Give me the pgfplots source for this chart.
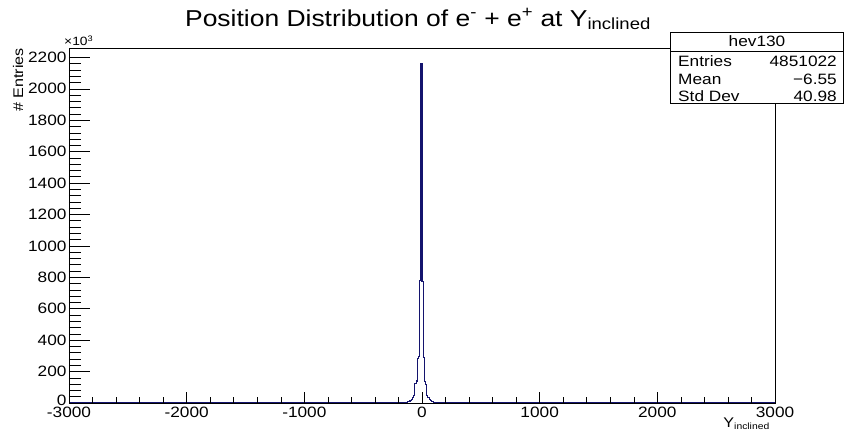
\documentclass[border=0pt]{standalone}
\usepackage{pgfplots}
\pgfplotsset{compat=1.18}
\usepackage{fontspec}
\setmainfont{Liberation Sans}[FakeStretch=1.15]
\definecolor{rootblue}{RGB}{20,20,110}

\begin{document}
\begin{tikzpicture}
% histogram and x axis ticks
\begin{axis}[
    at={(0pt,0pt)}, anchor=south west,
    scale only axis, width=706pt, height=355pt,
    xmin=-3000, xmax=3000, ymin=0, ymax=2260,
    xtick={-3000,-2000,...,3000}, minor x tick num=4,
    ytick=\empty,
    axis on top,
    tick pos=left, tick align=inside,
    major tick length=11pt, minor tick length=6pt,
    scaled ticks=false,
    axis line style={line width=0.8pt},
    every tick/.style={black, line width=0.6pt},
    /pgf/number format/assume math mode=true,
    /pgf/number format/1000 sep={},
    xticklabel style={font=\fontsize{15}{15}\selectfont},
  ]
  \addplot[const plot, rootblue, line width=1.1pt] coordinates {
    (-3000,0) (-150,2) (-140,4) (-130,6) (-120,9) (-110,13) (-100,18)
    (-90,25) (-80,35) (-70,50) (-60,125) (-50,140) (-40,285) (-30,295)
    (-20,780) (-10,2160) (0,775) (10,290) (20,135) (30,120) (40,45)
    (50,35) (60,25) (70,18) (80,12) (90,7) (100,4) (110,2) (120,0) (3000,0)
  };
\end{axis}
% y axis ticks (longer, as ROOT draws them)
\begin{axis}[
    at={(0pt,0pt)}, anchor=south west,
    scale only axis, width=706pt, height=355pt,
    xmin=-3000, xmax=3000, ymin=0, ymax=2260,
    xtick=\empty,
    ytick={0,200,...,2200}, minor y tick num=4,
    yticklabels={\raisebox{5pt}{0},200,400,600,800,1000,1200,1400,1600,1800,2000,2200},
    tick pos=left, tick align=inside,
    major tick length=21pt, minor tick length=12pt,
    axis line style={line width=0.8pt},
    every tick/.style={black, line width=0.6pt},
    yticklabel style={font=\fontsize{15}{15}\selectfont, xshift=1pt},
  ]
\end{axis}
% title and labels
\node[font=\fontsize{23}{23}\selectfont] at (349pt,384pt)
  {Position Distribution of e\textsuperscript{-} + e\textsuperscript{+} at Y\textsubscript{inclined}};
\node[rotate=90, anchor=east, font=\fontsize{14}{14}\selectfont, inner sep=0pt] at (-51pt,355pt) {\# Entries};
\node[anchor=south west, font=\fontsize{12}{12}\selectfont, inner sep=0pt] at (-5pt,357pt) {\texttimes10\textsuperscript{3}};
\node[anchor=east, font=\fontsize{14}{14}\selectfont, inner sep=0pt] at (701pt,-21pt) {Y\textsubscript{\fontsize{9}{9}\selectfont inclined}};
% statistics box
\draw[line width=0.8pt, fill=white] (601pt,300pt) rectangle (774pt,371pt);
\draw[line width=0.6pt] (601pt,352pt) -- (774pt,352pt);
\begin{scope}[font=\fontsize{15}{15}\selectfont, inner sep=0pt]
  \node at (688pt,361.5pt) {hev130};
  \node[anchor=west] at (609pt,342pt) {Entries};
  \node[anchor=east] at (768pt,342pt) {4851022};
  \node[anchor=west] at (609pt,324pt) {Mean};
  \node[anchor=east] at (768pt,324pt) {\textminus6.55};
  \node[anchor=west] at (609pt,307pt) {Std Dev};
  \node[anchor=east] at (768pt,307pt) {40.98};
\end{scope}
\pgfresetboundingbox
\path[use as bounding box] (-69pt,-32pt) rectangle (776pt,403pt);
\end{tikzpicture}
\end{document}
